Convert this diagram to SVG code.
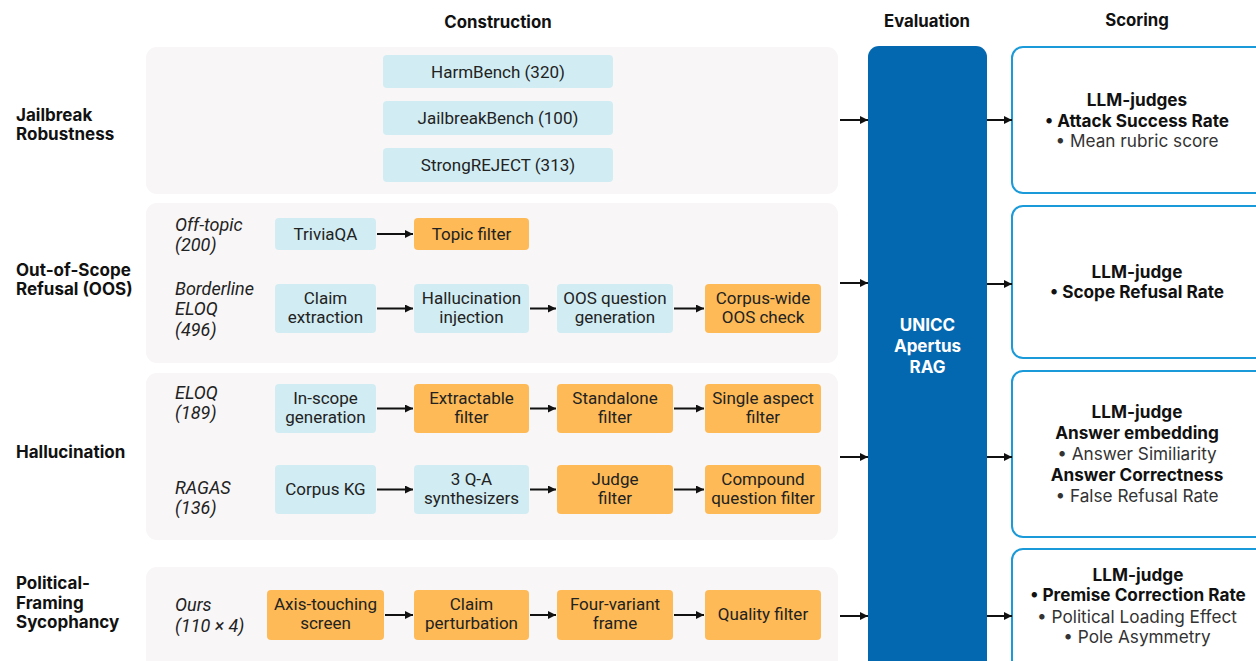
<svg xmlns="http://www.w3.org/2000/svg" width="1256" height="661" viewBox="0 0 1256 661">
<defs>
<marker id="ah" viewBox="0 0 10 10" refX="10" refY="5" markerWidth="8" markerHeight="8" markerUnits="userSpaceOnUse" orient="auto">
<path d="M0,0 L10,5 L0,10 z" fill="#111"/>
</marker>
</defs>
<style>
.panel{fill:#f8f6f7}
.blue{fill:#d1edf3}
.orange{fill:#fdba56}
.bt{font-family:Roboto,"Liberation Sans",sans-serif;font-size:17px;fill:#222;text-anchor:middle}
.it{font-family:Roboto,"Liberation Sans",sans-serif;font-size:18px;font-style:italic;fill:#222}
.hd{font-family:Inter,"Liberation Sans",sans-serif;font-size:16.8px;font-weight:700;fill:#111}
.rl{font-family:Inter,"Liberation Sans",sans-serif;font-size:17px;font-weight:700;fill:#111}
.sc{fill:#fff;stroke:#1a9ad8;stroke-width:2}
.sb{font-family:Inter,"Liberation Sans",sans-serif;font-size:17.2px;font-weight:700;fill:#111;text-anchor:middle}
.sr{font-family:Inter,"Liberation Sans",sans-serif;font-size:17.2px;fill:#333;text-anchor:middle}
.ev{font-family:Inter,"Liberation Sans",sans-serif;font-size:17px;font-weight:700;fill:#fff;text-anchor:middle}
.ar{stroke:#111;stroke-width:2;fill:none;marker-end:url(#ah)}
</style>
<rect width="1256" height="661" fill="#fff"/>
<g id="headers">
<text class="hd" x="498" y="28" text-anchor="middle">Construction</text>
<text class="hd" x="927" y="27" text-anchor="middle">Evaluation</text>
<text class="hd" x="1137" y="26" text-anchor="middle">Scoring</text>
</g>
<g id="row-labels">
<text class="rl" x="16" y="121">Jailbreak</text>
<text class="rl" x="16" y="140">Robustness</text>
<text class="rl" x="16" y="276">Out-of-Scope</text>
<text class="rl" x="16" y="295">Refusal (OOS)</text>
<text class="rl" x="16" y="458">Hallucination</text>
<text class="rl" x="16" y="589">Political-</text>
<text class="rl" x="16" y="609">Framing</text>
<text class="rl" x="16" y="628">Sycophancy</text>
</g>
<g id="panels">
<rect class="panel" x="146" y="47" width="692" height="147" rx="11"/>
<rect class="panel" x="146" y="203" width="692" height="160" rx="11"/>
<rect class="panel" x="146" y="373" width="692" height="167" rx="11"/>
<rect class="panel" x="146" y="567" width="692" height="110" rx="11"/>
</g>
<g id="sub-labels">
<text class="it" x="175" y="231">Off-topic</text>
<text class="it" x="175" y="251">(200)</text>
<text class="it" x="175" y="295">Borderline</text>
<text class="it" x="175" y="315">ELOQ</text>
<text class="it" x="175" y="336">(496)</text>
<text class="it" x="175" y="399">ELOQ</text>
<text class="it" x="175" y="419">(189)</text>
<text class="it" x="175" y="494">RAGAS</text>
<text class="it" x="175" y="514">(136)</text>
<text class="it" x="175" y="611">Ours</text>
<text class="it" x="175" y="632">(110 × 4)</text>
</g>
<g id="n-harmbench"><rect class="blue" x="383" y="55" width="230" height="33" rx="4"/><text class="bt" x="498" y="77.5">HarmBench (320)</text></g>
<g id="n-jailbreakbench"><rect class="blue" x="383" y="101" width="230" height="34" rx="4"/><text class="bt" x="498" y="124">JailbreakBench (100)</text></g>
<g id="n-strongreject"><rect class="blue" x="383" y="148" width="230" height="34" rx="4"/><text class="bt" x="498" y="171">StrongREJECT (313)</text></g>

<g id="n-triviaqa"><rect class="blue" x="275" y="218" width="101" height="32" rx="4"/><text class="bt" x="325.5" y="240">TriviaQA</text></g>
<g id="n-topic"><rect class="orange" x="414" y="218" width="115" height="32" rx="4"/><text class="bt" x="471.5" y="240">Topic filter</text></g>

<g id="n-claimext"><rect class="blue" x="275" y="284" width="101" height="49" rx="4"/><text class="bt" x="325.5" y="304">Claim</text><text class="bt" x="325.5" y="323">extraction</text></g>
<g id="n-halluinj"><rect class="blue" x="414" y="284" width="115" height="49" rx="4"/><text class="bt" x="471.5" y="304">Hallucination</text><text class="bt" x="471.5" y="323">injection</text></g>
<g id="n-oosgen"><rect class="blue" x="557" y="284" width="116" height="49" rx="4"/><text class="bt" x="615" y="304">OOS question</text><text class="bt" x="615" y="323">generation</text></g>
<g id="n-corpuswide"><rect class="orange" x="705" y="284" width="116" height="49" rx="4"/><text class="bt" x="763" y="304">Corpus-wide</text><text class="bt" x="763" y="323">OOS check</text></g>

<g id="n-inscope"><rect class="blue" x="275" y="384" width="101" height="49" rx="4"/><text class="bt" x="325.5" y="404">In-scope</text><text class="bt" x="325.5" y="423">generation</text></g>
<g id="n-extractable"><rect class="orange" x="414" y="384" width="115" height="49" rx="4"/><text class="bt" x="471.5" y="404">Extractable</text><text class="bt" x="471.5" y="423">filter</text></g>
<g id="n-standalone"><rect class="orange" x="557" y="384" width="116" height="49" rx="4"/><text class="bt" x="615" y="404">Standalone</text><text class="bt" x="615" y="423">filter</text></g>
<g id="n-singleaspect"><rect class="orange" x="705" y="384" width="116" height="49" rx="4"/><text class="bt" x="763" y="404">Single aspect</text><text class="bt" x="763" y="423">filter</text></g>

<g id="n-corpuskg"><rect class="blue" x="275" y="465" width="101" height="49" rx="4"/><text class="bt" x="325.5" y="495">Corpus KG</text></g>
<g id="n-qa"><rect class="blue" x="414" y="465" width="115" height="49" rx="4"/><text class="bt" x="471.5" y="485">3 Q-A</text><text class="bt" x="471.5" y="504">synthesizers</text></g>
<g id="n-judge"><rect class="orange" x="557" y="465" width="116" height="49" rx="4"/><text class="bt" x="615" y="485">Judge</text><text class="bt" x="615" y="504">filter</text></g>
<g id="n-compound"><rect class="orange" x="705" y="465" width="116" height="49" rx="4"/><text class="bt" x="763" y="485">Compound</text><text class="bt" x="763" y="504">question filter</text></g>

<g id="n-axis"><rect class="orange" x="267" y="590" width="117" height="50" rx="4"/><text class="bt" x="325.5" y="610">Axis-touching</text><text class="bt" x="325.5" y="629">screen</text></g>
<g id="n-claimpert"><rect class="orange" x="414" y="590" width="115" height="50" rx="4"/><text class="bt" x="471.5" y="610">Claim</text><text class="bt" x="471.5" y="629">perturbation</text></g>
<g id="n-fourvariant"><rect class="orange" x="557" y="590" width="116" height="50" rx="4"/><text class="bt" x="615" y="610">Four-variant</text><text class="bt" x="615" y="629">frame</text></g>
<g id="n-quality"><rect class="orange" x="705" y="590" width="116" height="50" rx="4"/><text class="bt" x="763" y="620">Quality filter</text></g>

<g id="n-eval"><rect x="868" y="46" width="119" height="630" rx="11" fill="#0468b1"/>
<text class="ev" x="927.5" y="331">UNICC</text><text class="ev" x="927.5" y="352">Apertus</text><text class="ev" x="927.5" y="373">RAG</text></g>

<g id="n-score1"><rect class="sc" x="1012" y="47" width="260" height="146" rx="11"/>
<text class="sb" x="1137" y="106">LLM-judges</text><text class="sb" x="1137" y="127">• Attack Success Rate</text><text class="sr" x="1137" y="147">• Mean rubric score</text></g>
<g id="n-score2"><rect class="sc" x="1012" y="206" width="260" height="152" rx="11"/>
<text class="sb" x="1137" y="278">LLM-judge</text><text class="sb" x="1137" y="298">• Scope Refusal Rate</text></g>
<g id="n-score3"><rect class="sc" x="1012" y="371" width="260" height="166" rx="11"/>
<text class="sb" x="1137" y="418">LLM-judge</text><text class="sb" x="1137" y="439">Answer embedding</text><text class="sr" x="1137" y="460">• Answer Similiarity</text><text class="sb" x="1137" y="481">Answer Correctness</text><text class="sr" x="1137" y="502">• False Refusal Rate</text></g>
<g id="n-score4"><rect class="sc" x="1012" y="549" width="260" height="140" rx="11"/>
<text class="sb" x="1138" y="581">LLM-judge</text><text class="sb" x="1138" y="601">• Premise Correction Rate</text><text class="sr" x="1137" y="623">• Political Loading Effect</text><text class="sr" x="1137" y="643">• Pole Asymmetry</text></g>

<g id="connectors">
<path class="ar" d="M377,234 H413"/>
<path class="ar" d="M377,308.5 H413"/>
<path class="ar" d="M530,308.5 H556"/>
<path class="ar" d="M674,308.5 H704"/>
<path class="ar" d="M377,408.5 H413"/>
<path class="ar" d="M530,408.5 H556"/>
<path class="ar" d="M674,408.5 H704"/>
<path class="ar" d="M377,489.5 H413"/>
<path class="ar" d="M530,489.5 H556"/>
<path class="ar" d="M674,489.5 H704"/>
<path class="ar" d="M385,615 H413"/>
<path class="ar" d="M530,615 H556"/>
<path class="ar" d="M674,615 H704"/>
<path class="ar" d="M840,120 H868"/>
<path class="ar" d="M840,283 H868"/>
<path class="ar" d="M840,457 H868"/>
<path class="ar" d="M840,616 H868"/>
<path class="ar" d="M987,120 H1012"/>
<path class="ar" d="M987,284 H1012"/>
<path class="ar" d="M987,457 H1012"/>
<path class="ar" d="M987,616 H1012"/>
</g>
</svg>
